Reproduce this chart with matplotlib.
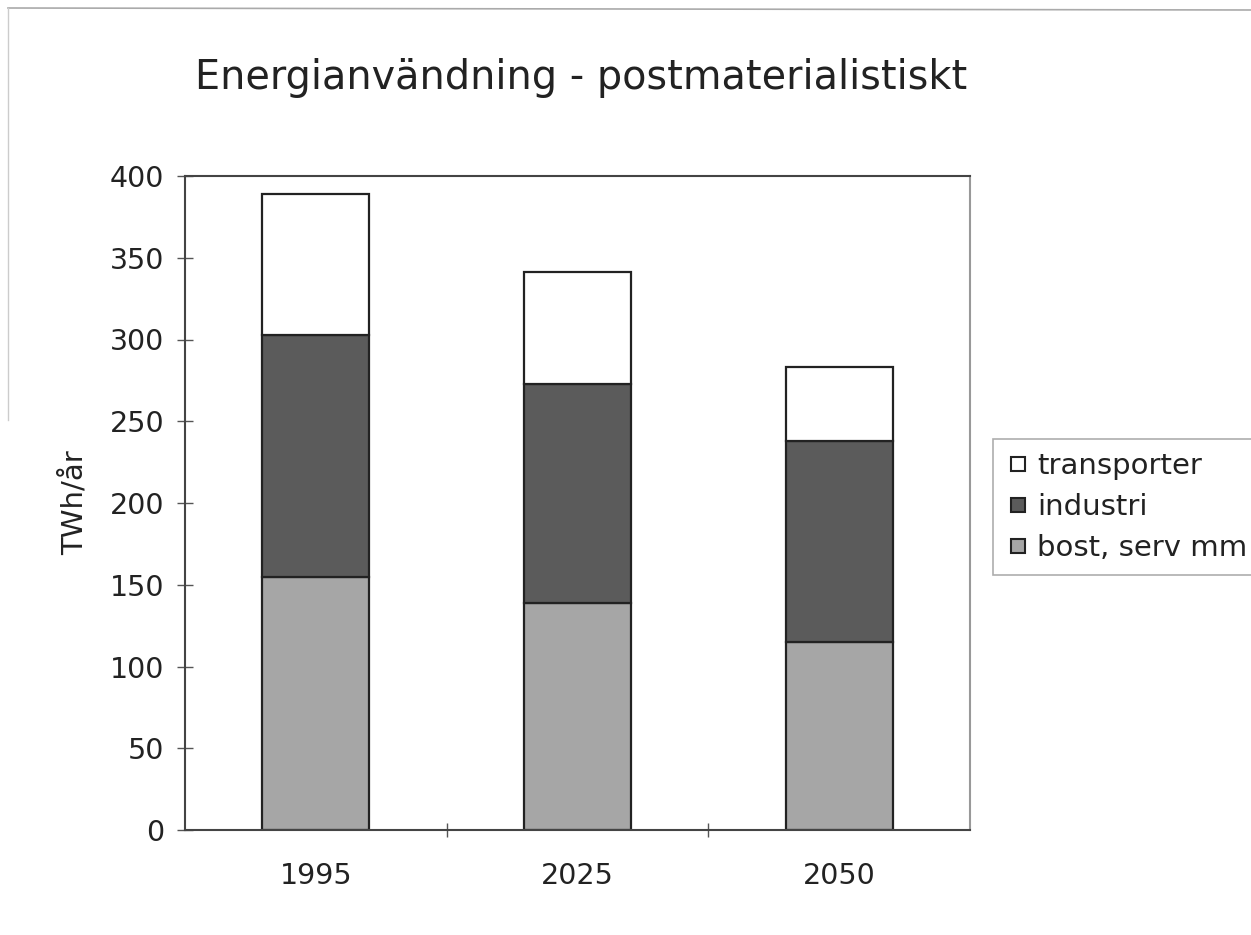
import numpy as np
import matplotlib.pyplot as plt
from matplotlib.lines import Line2D

# Energianvändning per sektor, TWh/år
years = ['1995', '2025', '2050']
bost = [155, 139, 115]
industri = [148, 134, 123]
transporter = [86, 68, 45]

fig = plt.figure(figsize=(12.51, 9.35), dpi=100)
ax = fig.add_axes([185 / 1251, 1 - 830 / 935, 785 / 1251, 654 / 935])

x = np.arange(len(years))
w = 0.41
bost_arr = np.array(bost)
ind_arr = np.array(industri)
ax.bar(x, bost, w, color='#a6a6a6', edgecolor='#222222', linewidth=1.6, label='bost, serv mm')
ax.bar(x, industri, w, bottom=bost_arr, color='#5b5b5b', edgecolor='#222222', linewidth=1.6, label='industri')
ax.bar(x, transporter, w, bottom=bost_arr + ind_arr, color='white', edgecolor='#222222', linewidth=1.6, label='transporter')

ax.set_xlim(-0.5, len(years) - 0.5)
ax.set_ylim(0, 400)
ax.set_yticks(range(0, 401, 50))
ax.set_xticks(x)
ax.set_xticklabels(years)
ax.set_xticks([0.5, 1.5], minor=True)
ax.tick_params(axis='x', which='major', length=0, labelsize=20.5, pad=23, colors='#222222')
ax.tick_params(axis='x', which='minor', length=10, direction='inout', width=1, color='#555555')
ax.tick_params(axis='y', length=12, direction='inout', width=1, labelsize=20.5, pad=9, color='#555555', labelcolor='#222222')
ax.set_ylabel('TWh/år', fontsize=21, labelpad=15, color='#222222')

for side in ['left', 'bottom', 'top']:
    ax.spines[side].set_color('#444444')
    ax.spines[side].set_linewidth(1.5)
ax.spines['right'].set_color('#999999')
ax.spines['right'].set_linewidth(1.5)

fig.text(195 / 1251, 1 - 78 / 935, 'Energianvändning - postmaterialistiskt', fontsize=28.6,
         va='center', ha='left', color='#222222')

# legend med fyrkantiga markörer
handles = [
    Line2D([], [], marker='s', linestyle='none', markersize=10, markerfacecolor='white',
           markeredgecolor='#222222', markeredgewidth=1.5),
    Line2D([], [], marker='s', linestyle='none', markersize=10, markerfacecolor='#5b5b5b',
           markeredgecolor='#222222', markeredgewidth=1.5),
    Line2D([], [], marker='s', linestyle='none', markersize=10, markerfacecolor='#a6a6a6',
           markeredgecolor='#222222', markeredgewidth=1.5),
]
leg = fig.legend(handles, ['transporter', 'industri', 'bost, serv mm'],
                 loc='center left', bbox_to_anchor=(993 / 1251, 1 - 507 / 935),
                 fontsize=21, frameon=True, fancybox=False, handlelength=0.8,
                 handletextpad=0.25, borderpad=0.45, labelspacing=0.45, borderaxespad=0)
leg.get_frame().set_edgecolor('#999999')
leg.get_frame().set_linewidth(1.2)
for t in leg.get_texts():
    t.set_color('#222222')

# tunn ram runt diagrammet
fig.add_artist(Line2D([8 / 1251, 1], [1 - 8 / 935, 1 - 10 / 935], color='#aaaaaa', linewidth=1.2))
fig.add_artist(Line2D([8 / 1251, 8 / 1251], [1 - 8 / 935, 1 - 420 / 935], color='#cccccc', linewidth=1))

fig.savefig('out.png', dpi=100)
